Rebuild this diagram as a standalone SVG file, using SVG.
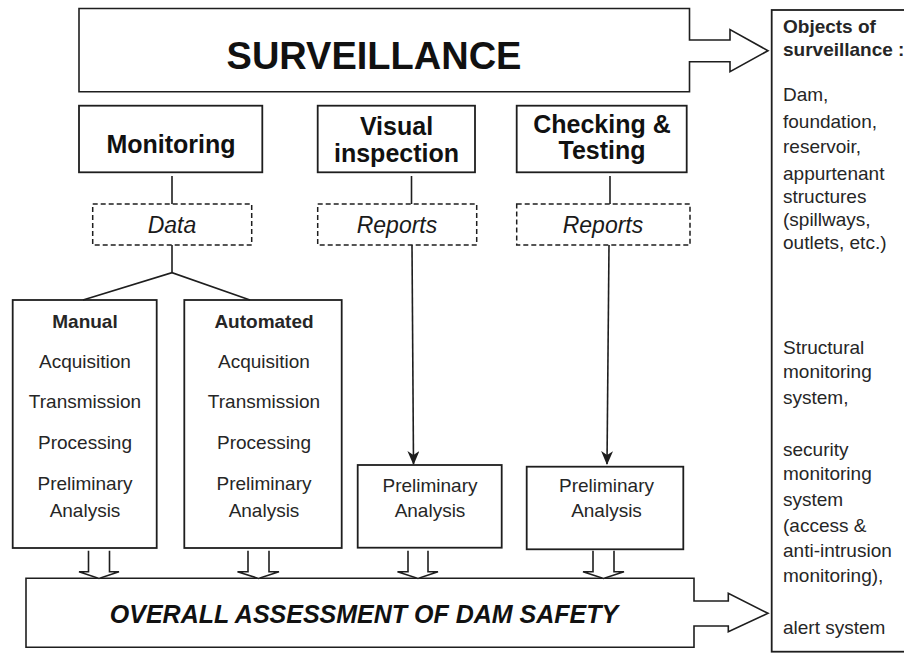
<svg xmlns="http://www.w3.org/2000/svg" width="904" height="653" viewBox="0 0 904 653">
<defs>
<style>
.box{fill:#fff;stroke:#1e1e1e;stroke-width:1.8}
.dash{fill:#fff;stroke:#1e1e1e;stroke-width:1.5;stroke-dasharray:5,3}
.ln{fill:none;stroke:#1e1e1e;stroke-width:1.6}
.blk{fill:#fff;stroke:#1e1e1e;stroke-width:1.6;stroke-linejoin:miter}
text{font-family:"Liberation Sans",Arial,sans-serif;fill:#1a1a1a}
.t{font-size:19px;text-anchor:middle;fill:#262626}
.tl{font-size:19px;fill:#262626}
.b{font-weight:bold}
.h{font-size:25px;font-weight:bold;text-anchor:middle;fill:#111}
.i{font-size:23px;font-style:italic;text-anchor:middle}
</style>
<marker id="ah" viewBox="0 0 14 12" refX="13" refY="6" markerWidth="14" markerHeight="12" markerUnits="userSpaceOnUse" orient="auto">
<path d="M0,0 L14,6 L0,12 L4,6 Z" fill="#1e1e1e"/>
</marker>
</defs>

<g id="surveillance">
<path class="blk" d="M79,8.5 H689.5 V40 H730 V29.5 L768,50.7 L730,71.7 V61.7 H689.5 V91.7 H79 Z"/>
<text x="374" y="69" style="font-size:38px;font-weight:bold;fill:#111;text-anchor:middle">SURVEILLANCE</text>
</g>

<g id="objects">
<rect class="box" x="771.7" y="10" width="140" height="641.7"/>
<text class="tl b" x="783" y="33">Objects of</text>
<text class="tl b" x="783" y="56">surveillance :</text>
<text class="tl" x="783" y="101">Dam,</text>
<text class="tl" x="783" y="128">foundation,</text>
<text class="tl" x="783" y="153">reservoir,</text>
<text class="tl" x="783" y="180">appurtenant</text>
<text class="tl" x="783" y="203">structures</text>
<text class="tl" x="783" y="226">(spillways,</text>
<text class="tl" x="783" y="249">outlets, etc.)</text>
<text class="tl" x="783" y="354">Structural</text>
<text class="tl" x="783" y="378">monitoring</text>
<text class="tl" x="783" y="404">system,</text>
<text class="tl" x="783" y="456">security</text>
<text class="tl" x="783" y="480">monitoring</text>
<text class="tl" x="783" y="506">system</text>
<text class="tl" x="783" y="532">(access &amp;</text>
<text class="tl" x="783" y="557">anti-intrusion</text>
<text class="tl" x="783" y="582">monitoring),</text>
<text class="tl" x="783" y="634">alert system</text>
</g>

<g id="monitoring">
<rect class="box" x="79" y="105.7" width="183.3" height="66.6"/>
<text class="h" x="171" y="153">Monitoring</text>
</g>
<g id="visual">
<rect class="box" x="317.7" y="105.7" width="157.3" height="66.6"/>
<text class="h" x="396.5" y="135">Visual</text>
<text class="h" x="396.5" y="162">inspection</text>
</g>
<g id="checking">
<rect class="box" x="516.7" y="105.7" width="170" height="66.6"/>
<text class="h" x="602" y="133">Checking &amp;</text>
<text class="h" x="602" y="159">Testing</text>
</g>

<g id="data">
<rect class="dash" x="92.7" y="204" width="159" height="41"/>
<text class="i" x="172" y="233">Data</text>
</g>
<g id="reports1">
<rect class="dash" x="317.7" y="204" width="159" height="41"/>
<text class="i" x="397" y="233">Reports</text>
</g>
<g id="reports2">
<rect class="dash" x="516.7" y="204" width="173.3" height="41"/>
<text class="i" x="603" y="233">Reports</text>
</g>

<g id="manual">
<rect class="box" x="12.7" y="300" width="144" height="248"/>
<text class="t b" x="85" y="328">Manual</text>
<text class="t" x="85" y="368">Acquisition</text>
<text class="t" x="85" y="408">Transmission</text>
<text class="t" x="85" y="449">Processing</text>
<text class="t" x="85" y="490">Preliminary</text>
<text class="t" x="85" y="517">Analysis</text>
</g>
<g id="automated">
<rect class="box" x="184.3" y="300" width="157.4" height="248"/>
<text class="t b" x="264" y="328">Automated</text>
<text class="t" x="264" y="368">Acquisition</text>
<text class="t" x="264" y="408">Transmission</text>
<text class="t" x="264" y="449">Processing</text>
<text class="t" x="264" y="490">Preliminary</text>
<text class="t" x="264" y="517">Analysis</text>
</g>
<g id="prelim1">
<rect class="box" x="357.7" y="465" width="144" height="82.7"/>
<text class="t" x="430" y="491.5">Preliminary</text>
<text class="t" x="430" y="517">Analysis</text>
</g>
<g id="prelim2">
<rect class="box" x="526.7" y="466.7" width="156.6" height="82.6"/>
<text class="t" x="606.5" y="491.5">Preliminary</text>
<text class="t" x="606.5" y="516.5">Analysis</text>
</g>

<g id="overall">
<path class="blk" d="M26,578.3 H694 V601 H728.3 V593.3 L768,613.3 L728.3,631.7 V626 H694 V647.3 H26 Z"/>
<text x="364" y="622.5" style="font-size:25px;font-weight:bold;font-style:italic;fill:#111;text-anchor:middle">OVERALL ASSESSMENT OF DAM SAFETY</text>
</g>

<g id="connectors">
<line class="ln" x1="172" y1="176" x2="172" y2="204"/>
<line class="ln" x1="411.5" y1="176" x2="411.5" y2="204"/>
<line class="ln" x1="610" y1="176" x2="610" y2="204"/>
<polyline class="ln" points="172,245 172,272.7"/>
<polyline class="ln" points="83,300 172,272.7 250,300"/>
<line class="ln" x1="412" y1="245" x2="413.5" y2="464" marker-end="url(#ah)"/>
<line class="ln" x1="609" y1="245" x2="607" y2="464" marker-end="url(#ah)"/>
<path class="blk" d="M88.5,550.7 V571.7 H79 L99,578.5 L119,571.7 H109.5 V550.7"/>
<path class="blk" d="M248,550.7 V571.7 H237.5 L258.5,578.5 L279,571.7 H269 V550.7"/>
<path class="blk" d="M408,550.7 V571.7 H397.5 L418,578.5 L438,571.7 H428 V550.7"/>
<path class="blk" d="M593,550.7 V571.7 H583 L603.5,578.5 L624,571.7 H614 V550.7"/>
</g>
</svg>
